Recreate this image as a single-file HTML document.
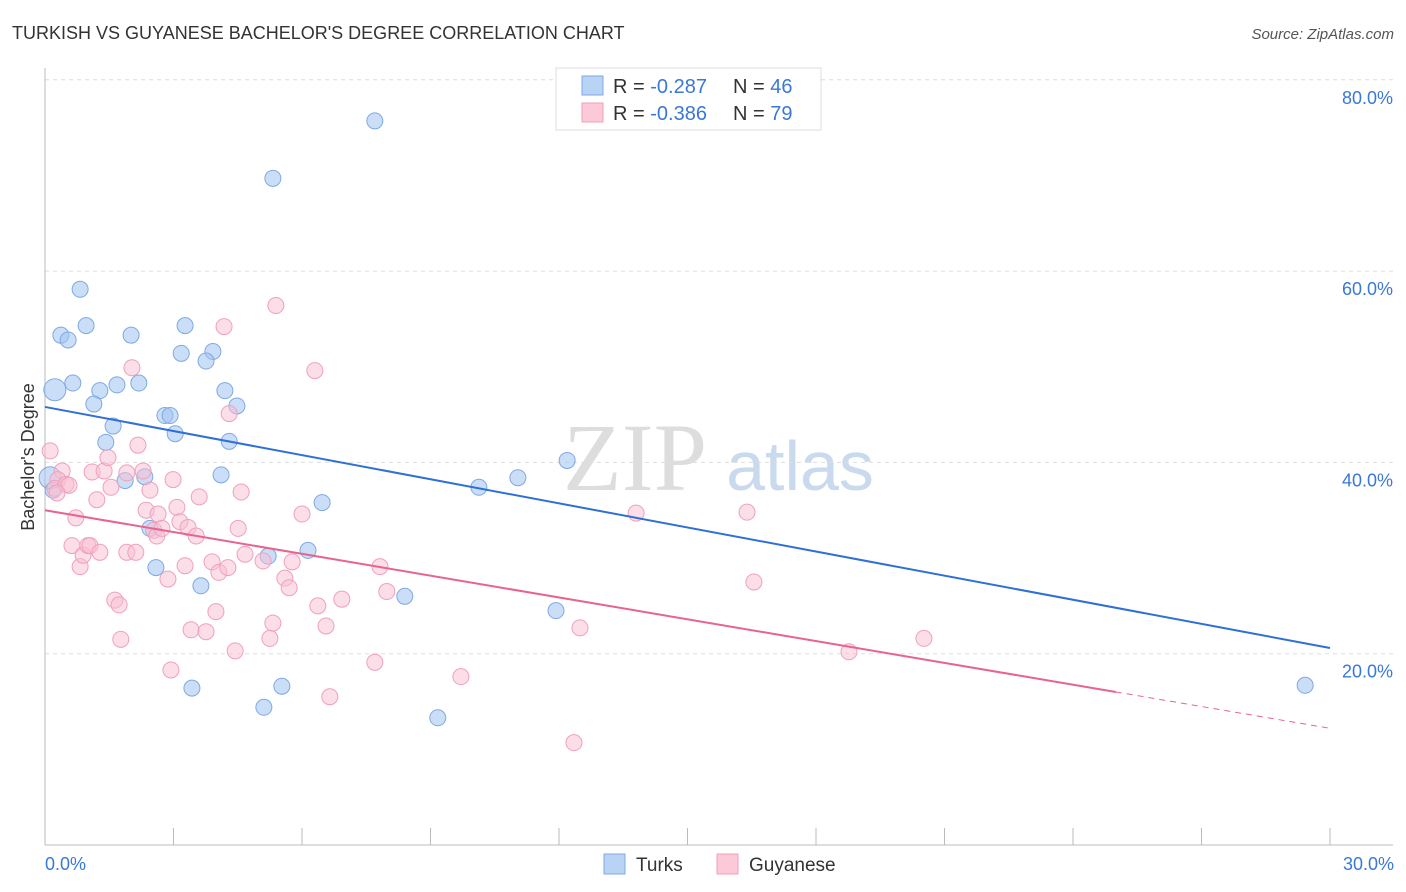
<!DOCTYPE html>
<html><head><meta charset="utf-8"><style>
body{margin:0;background:#fff;font-family:"Liberation Sans",sans-serif;}
svg{display:block}
</style></head><body>
<svg id="chart" width="1406" height="892" xmlns="http://www.w3.org/2000/svg">
<text x="12" y="39" font-size="18" fill="#333">TURKISH VS GUYANESE BACHELOR'S DEGREE CORRELATION CHART</text>
<text x="1394" y="39" font-size="15" fill="#555" font-style="italic" text-anchor="end">Source: ZipAtlas.com</text>
<g>
<text x="635" y="490" font-size="96" fill="#ddd" font-family="Liberation Serif,serif" text-anchor="middle">ZIP</text>
<text x="800" y="490" font-size="70" fill="#c9d9ee" text-anchor="middle">atlas</text>
</g>
<g id="grid"></g>
<g id="axes"></g>
<g id="pts"></g>
<g id="trend"></g>
<text transform="translate(34,457) rotate(-90)" font-size="18" fill="#333" text-anchor="middle">Bachelor's Degree</text>
<text x="45" y="870" font-size="18" fill="#3a78d8">0.0%</text>
<text x="1394" y="870" font-size="18" fill="#3a78d8" text-anchor="end">30.0%</text>
<g>
<rect x="556" y="68" width="265" height="62" fill="#fff" stroke="#ddd"/>
<rect x="582" y="76" width="21" height="19" fill="#b9d3f5" stroke="#7fa9e3"/>
<rect x="582" y="103" width="21" height="19" fill="#fbc9d8" stroke="#f0a0ba"/>
<text x="613" y="93" font-size="20" fill="#333">R = <tspan fill="#3a78d8">-0.287</tspan><tspan x="733">N = </tspan><tspan fill="#3a78d8">46</tspan></text>
<text x="613" y="120" font-size="20" fill="#333">R = <tspan fill="#3a78d8">-0.386</tspan><tspan x="733">N = </tspan><tspan fill="#3a78d8">79</tspan></text>
</g>
<g>
<rect x="604" y="854" width="21" height="20" fill="#b9d3f5" stroke="#7fa9e3"/>
<text x="636" y="871" font-size="19" fill="#333">Turks</text>
<rect x="717" y="854" width="21" height="20" fill="#fbc9d8" stroke="#f0a0ba"/>
<text x="749" y="871" font-size="19" fill="#333">Guyanese</text>
</g>
</svg>
<script>
const yTicks=[20,40,60,80];
const yTickLabels=["20.0%","40.0%","60.0%","80.0%"];
const turksX=[7.70,5.32,0.82,0.37,0.54,0.96,2.01,3.27,3.18,3.92,3.76,0.23,0.65,1.68,2.19,1.28,1.14,4.20,4.48,2.80,2.92,1.59,3.04,1.42,4.30,12.19,11.04,10.13,4.11,2.33,1.87,0.12,0.19,6.47,2.45,5.21,6.14,2.59,3.64,8.40,11.93,3.43,5.53,5.11,9.17,29.42,12.25];
const turksY=[75.7,69.7,58.1,53.3,52.8,54.3,53.3,54.3,51.4,51.6,50.6,47.6,48.3,48.1,48.3,47.5,46.1,47.5,45.9,44.9,44.9,43.8,43.0,42.1,42.2,40.2,38.4,37.4,38.7,38.5,38.1,38.4,37.1,35.8,33.1,30.2,30.8,29.0,27.1,26.0,24.5,16.4,16.6,14.4,13.3,16.7,78.7];
const turksBig=[0,0,0,0,0,0,0,0,0,0,0,1,0,0,0,0,0,0,0,0,0,0,0,0,0,0,0,0,0,0,0,1,0,0,0,0,0,0,0,0,0,0,0,0,0,0,0];
const guyX=[0.12,0.40,0.30,0.23,0.49,0.56,0.28,0.72,0.63,0.82,0.89,1.00,1.05,1.28,1.10,1.38,1.47,1.21,1.54,1.91,2.29,2.17,2.45,2.03,1.63,1.73,1.77,1.91,2.12,2.36,2.64,2.54,2.61,2.73,2.99,3.08,3.15,3.34,3.53,3.60,4.18,4.30,4.58,4.51,2.87,3.27,2.94,3.41,3.76,3.99,3.90,4.06,4.27,4.44,4.67,5.09,5.25,5.32,5.39,5.60,5.70,5.77,6.00,6.30,6.37,6.56,6.65,6.93,7.70,7.82,7.98,9.71,12.35,12.49,13.80,16.39,16.55,18.77,20.52];
const guyY=[41.2,39.1,38.2,37.3,37.7,37.6,36.8,34.2,31.3,29.1,30.3,31.3,31.3,30.6,39.0,39.1,40.5,36.1,37.4,38.9,39.1,41.8,37.1,49.9,25.6,25.1,21.5,30.6,30.6,35.0,34.6,32.9,32.3,33.1,38.2,35.3,33.8,33.2,32.3,36.4,54.2,45.1,36.9,33.1,27.8,29.2,18.3,22.5,22.3,24.4,29.6,28.5,29.0,20.3,30.4,29.7,21.6,23.2,56.4,27.9,26.9,29.6,34.6,49.6,25.0,22.9,15.5,25.7,19.1,29.1,26.5,17.6,10.7,22.7,34.7,34.8,27.5,20.2,21.6];
const turksTrend=[45.8,20.6];   // y at x=0, x=30
const guyTrend=[35.0,12.2];     // y at x=0, x=30
const guySolidEnd=25;
const X0=45,X1=1330,Y0=845,YS=9.565;
const sx=v=>X0+(v/30)*(X1-X0);
const sy=v=>Y0-v*YS;
const NS="http://www.w3.org/2000/svg";
function mk(tag,attrs,parent){const e=document.createElementNS(NS,tag);for(const k in attrs)e.setAttribute(k,attrs[k]);parent.appendChild(e);return e;}
const grid=document.getElementById('grid'),axes=document.getElementById('axes'),pts=document.getElementById('pts'),trend=document.getElementById('trend');
yTicks.forEach((t,i)=>{
  const l=mk('line',{x1:45,x2:1393,y1:sy(t),y2:sy(t),stroke:'#ddd','stroke-dasharray':'4,4'},grid);
  
  
  const tx=mk('text',{x:1393,y:sy(t)+24,'font-size':18,fill:'#3a78d8','text-anchor':'end'},grid);
  tx.textContent=yTickLabels[i];
  
  
});
const ax=mk('line',{x1:45,x2:45,y1:68,y2:845,stroke:'#bbb'},axes);


const bx=mk('line',{x1:45,x2:1393,y1:845,y2:845,stroke:'#bbb'},axes);


for(let i=0;i<=10;i++){
  const t=mk('line',{x1:sx(i*3),x2:sx(i*3),y1:828,y2:845,stroke:'#bbb'},axes);
  
  
}
turksX.forEach((x,i)=>{
  const c=mk('circle',{cx:sx(x),cy:sy(turksY[i]),r:turksBig[i]?11:8,fill:'rgba(160,195,240,0.55)',stroke:'#7fa9e3','stroke-width':1},pts);
  
  
});
guyX.forEach((x,i)=>{
  const c=mk('circle',{cx:sx(x),cy:sy(guyY[i]),r:8,fill:'rgba(250,190,210,0.5)',stroke:'#f0a0ba','stroke-width':1},pts);
  
  
});
const ty=x=>turksTrend[0]+(turksTrend[1]-turksTrend[0])*x/30;
const gy=x=>guyTrend[0]+(guyTrend[1]-guyTrend[0])*x/30;
const t1=mk('line',{x1:sx(0),y1:sy(ty(0)),x2:sx(30),y2:sy(ty(30)),stroke:'#2f6fd6','stroke-width':2},trend);


const t2=mk('line',{x1:sx(0),y1:sy(gy(0)),x2:sx(guySolidEnd),y2:sy(gy(guySolidEnd)),stroke:'#e8638f','stroke-width':2},trend);


const t3=mk('line',{x1:sx(guySolidEnd),y1:sy(gy(guySolidEnd)),x2:sx(30),y2:sy(gy(30)),stroke:'#e8638f','stroke-width':1,'stroke-dasharray':'6,5'},trend);


</script>
</body></html>
